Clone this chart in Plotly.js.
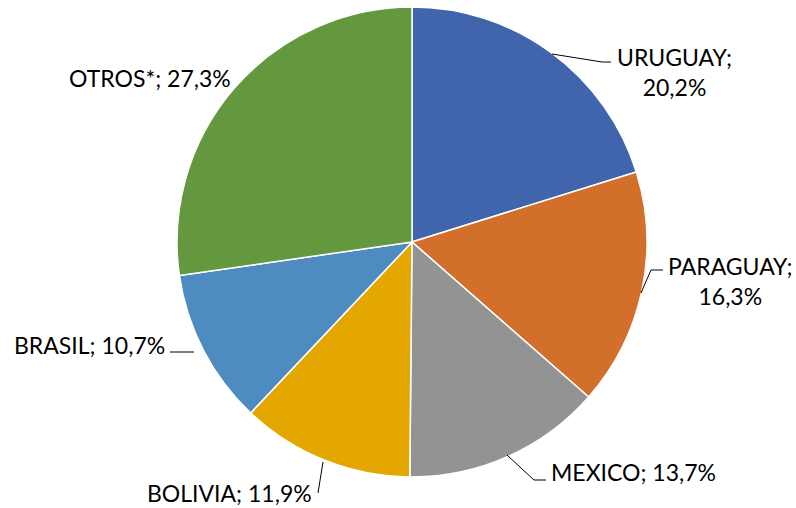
<!DOCTYPE html>
<html><head><meta charset="utf-8">
<script src="https://cdn.plot.ly/plotly-3.0.1.min.js"></script>
<style>html,body{margin:0;padding:0;background:#fff}#c{width:796px;height:508px}</style>
</head><body><div id="c"></div>
<script>
const countries = ["URUGUAY","PARAGUAY","MEXICO","BOLIVIA","BRASIL","OTROS*"];
const shares = [20.2,16.3,13.7,11.9,10.7,27.3];
const colors = ["#4065AD","#D26F2A","#939393","#E3A700","#4E8BC0","#63983F"];

const W=796,H=508;
const px=x=>x/W, py=y=>1-y/H;
const fmt=v=>v.toFixed(1).replace('.',',')+'%';

// label placement (pixels): [x, y, xanchor, twoLines]
const labelPos = [
  [615,72,'left',true],
  [666,281,'left',true],
  [549,472,'left',false],
  [314,493,'right',false],
  [167,345,'right',false],
  [233,78,'right',false]
];
const leaders = [
  [[552,54],[602,62],[611,62]],
  [[641,293],[651,270],[663,270]],
  [[507,455],[534,480],[546,480]],
  [[323,462],[318,493]],
  [[170,352],[194,352]],
  null
];

const annotations = countries.map((c,i)=>{
  const p=labelPos[i];
  const txt = p[3] ? c+';<br>'+fmt(shares[i]) : c+'; '+fmt(shares[i]);
  return {xref:'paper',yref:'paper',x:px(p[0]),y:py(p[1]),xanchor:p[2],yanchor:'middle',
    text:txt,showarrow:false,align:'center',font:{family:'Lato, Open Sans, sans-serif',size:23,color:'#000'}};
});
const shapes = leaders.filter(l=>l).map(l=>({type:'path',xref:'paper',yref:'paper',
  path:l.map((p,j)=>(j?'L':'M')+px(p[0])+','+py(p[1])).join(' '),
  line:{color:'#000',width:1}}));

Plotly.newPlot('c',[{
  type:'pie',labels:countries,values:shares,sort:false,direction:'clockwise',rotation:0,
  marker:{colors:colors,line:{color:'#fff',width:1.5}},
  textinfo:'none',hoverinfo:'label+percent',
  domain:{x:[px(177),px(647)],y:[py(477),py(7)]}
}],{
  width:W,height:H,margin:{l:0,r:0,t:0,b:0},showlegend:false,
  paper_bgcolor:'#fff',annotations:annotations,shapes:shapes
},{displayModeBar:false,staticPlot:true});
</script></body></html>
